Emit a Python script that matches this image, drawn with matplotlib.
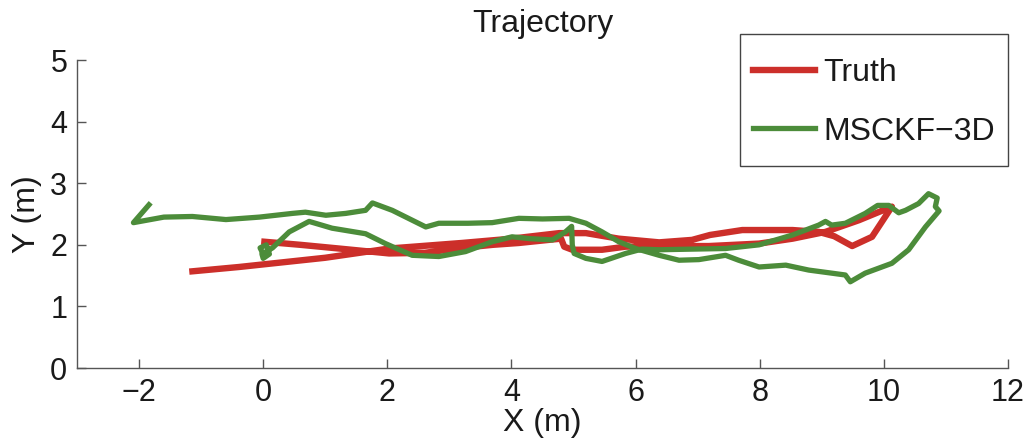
import numpy as np
import matplotlib
matplotlib.use("Agg")
import matplotlib.pyplot as plt

plt.rcParams['font.family'] = ['Liberation Sans', 'DejaVu Sans']

# Ground truth path (x, y in metres)
truth_x = [0.02, 0.6, 1.22, 2.03, 2.6, 3.2, 3.7, 4.12, 4.6, 4.8, 4.85, 4.98, 5.46, 5.84,
           6.38, 7.18, 7.99, 8.53, 9.06, 9.6, 10.13, 9.81, 9.49, 9.2, 8.95, 8.53, 7.72,
           7.2, 6.91, 6.38, 5.73, 5.2, 4.77, 4.0, 3.2, 2.03, 1.0, -0.39, -1.14]
truth_y = [2.05, 2.0, 1.94, 1.86, 1.87, 1.95, 2.0, 2.03, 2.08, 2.1, 1.97, 1.92, 1.92, 1.97,
           1.98, 1.98, 2.02, 2.1, 2.21, 2.4, 2.62, 2.13, 1.98, 2.14, 2.21, 2.24, 2.24,
           2.16, 2.08, 2.04, 2.1, 2.19, 2.19, 2.1, 2.03, 1.94, 1.79, 1.64, 1.57]

# MSCKF-3D estimate
est_x = [0.0, -0.05, 0.05, 0.1, 0.0, -0.02, 0.15, 0.42, 0.74, 1.11, 1.65, 1.97, 2.4, 2.83,
         3.26, 3.69, 4.01, 4.3, 4.66, 4.87, 4.97, 4.98, 5.01, 5.2, 5.46, 5.84, 6.1, 6.38,
         6.9, 7.45, 7.99, 8.53, 8.95, 9.06, 9.16, 9.38, 9.7, 9.9, 10.08, 10.24, 10.35,
         10.56, 10.72, 10.86, 10.83, 10.89, 10.67, 10.4, 10.13, 9.7, 9.46, 9.38, 9.16,
         8.79, 8.42, 7.99, 7.66, 7.45, 7.02, 6.7, 6.38, 6.0, 5.73, 5.46, 5.2, 4.93, 4.5,
         4.12, 3.69, 3.3, 2.83, 2.62, 2.3, 2.08, 1.76, 1.65, 1.33, 1.01, 0.68, 0.47, -0.06,
         -0.6, -1.14, -1.6, -2.09, -1.84]
est_y = [1.85, 1.95, 2.0, 1.85, 1.78, 1.85, 1.95, 2.21, 2.38, 2.27, 2.18, 2.02, 1.83, 1.81,
         1.89, 2.05, 2.13, 2.1, 2.08, 2.21, 2.3, 2.0, 1.86, 1.78, 1.73, 1.86, 1.93, 1.92,
         1.93, 1.94, 2.0, 2.16, 2.32, 2.38, 2.32, 2.35, 2.51, 2.64, 2.64, 2.52, 2.56,
         2.67, 2.83, 2.76, 2.62, 2.55, 2.29, 1.92, 1.7, 1.54, 1.4, 1.51, 1.54,
         1.59, 1.67, 1.64, 1.75, 1.83, 1.76, 1.75, 1.83, 1.94, 2.05, 2.21, 2.35, 2.43, 2.42,
         2.43, 2.36, 2.35, 2.35, 2.29, 2.45, 2.56, 2.68, 2.56, 2.51, 2.48, 2.53, 2.51, 2.45,
         2.41, 2.46, 2.45, 2.36, 2.65]

fig = plt.figure(figsize=(10.32, 4.45), dpi=100)
ax = fig.add_axes([0.0746, 0.173, 0.9021, 0.6921])

ax.plot(truth_x, truth_y, color='#cc2f2a', lw=4.6, solid_joinstyle='round', label='Truth')
ax.plot(est_x, est_y, color='#4c8c3a', lw=3.8, solid_joinstyle='round', label='MSCKF\u22123D')

ax.set_xlim(-3, 12)
ax.set_ylim(0, 5)
ax.set_xticks(np.arange(-2, 13, 2))
ax.set_yticks(np.arange(0, 6, 1))

for s in ['top', 'right']:
    ax.spines[s].set_visible(False)
for s in ['left', 'bottom']:
    ax.spines[s].set_color('#555555')
    ax.spines[s].set_linewidth(1.0)
ax.tick_params(direction='in', length=6.5, width=1.0, color='#555555',
               labelsize=22, labelcolor='#1a1a1a', pad=7)

ax.set_xlabel('X (m)', fontsize=23, color='#1a1a1a', labelpad=0)
ax.set_ylabel('Y (m)', fontsize=23, color='#1a1a1a', labelpad=6)
ax.set_title('Trajectory', fontsize=23, color='#1a1a1a', pad=20)

# taller handle boxes give the roomier rows without widening the frame
leg_fs = 23
leg = ax.legend(loc='upper right', bbox_to_anchor=(1.0, 1.084), borderaxespad=0,
                fontsize=leg_fs, handlelength=1.94, handleheight=1.93, handletextpad=0.28,
                labelspacing=0.335, borderpad=0.4, fancybox=False, framealpha=1,
                edgecolor='#444444')
leg.get_frame().set_linewidth(1.0)
for t in leg.get_texts():
    t.set_color('#1a1a1a')
# put the handle lines level with the middle of the capitals
for ln in leg.get_lines():
    ln.set_ydata(np.full_like(np.asarray(ln.get_xdata(), dtype=float), 0.36 * leg_fs))

fig.savefig('out.png', dpi=100)
